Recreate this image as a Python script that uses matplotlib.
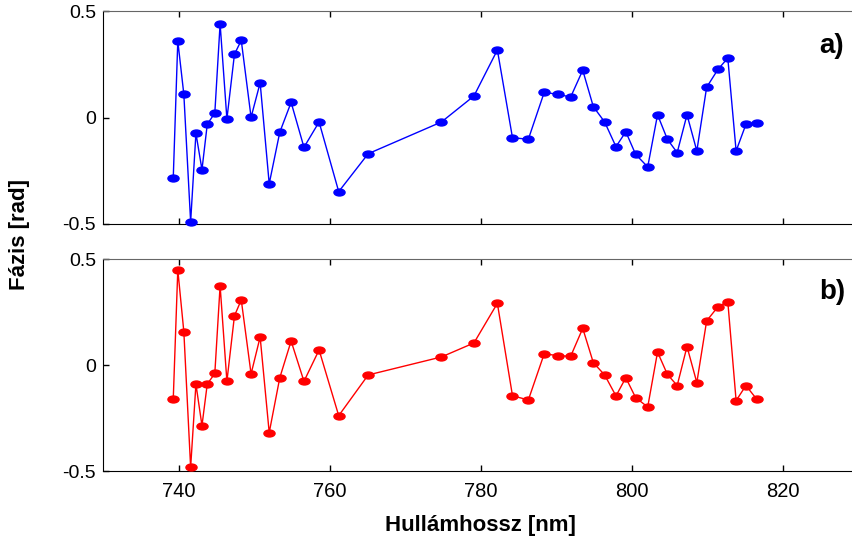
import matplotlib
matplotlib.use("Agg")
import matplotlib.pyplot as plt
from matplotlib.path import Path
from matplotlib.transforms import Affine2D

# wavelength [nm]
wavelength = [739.3, 739.9, 740.7, 741.6, 742.3, 743.1, 743.8, 744.8, 745.5, 746.4,
              747.4, 748.3, 749.6, 750.8, 752.0, 753.4, 754.9, 756.6, 758.6, 761.2,
              765.1, 774.8, 779.1, 782.2, 784.2, 786.3, 788.4, 790.2, 791.9, 793.5,
              794.9, 796.4, 797.9, 799.2, 800.5, 802.1, 803.4, 804.7, 806.0, 807.3,
              808.6, 809.9, 811.4, 812.7, 813.8, 815.1, 816.5]

# phase a) [rad]
phase_a = [-0.283, 0.359, 0.109, -0.49, -0.074, -0.245, -0.032, 0.021, 0.44, -0.007,
           0.297, 0.362, 0.001, 0.163, -0.311, -0.069, 0.071, -0.14, -0.021, -0.348,
           -0.17, -0.021, 0.101, 0.317, -0.095, -0.102, 0.118, 0.109, 0.096, 0.222,
           0.051, -0.021, -0.137, -0.067, -0.173, -0.232, 0.013, -0.102, -0.165, 0.013,
           -0.157, 0.142, 0.226, 0.279, -0.157, -0.032, -0.027]

# phase b) [rad]
phase_b = [-0.16, 0.449, 0.157, -0.483, -0.09, -0.286, -0.09, -0.04, 0.374, -0.077,
           0.232, 0.307, -0.042, 0.132, -0.319, -0.06, 0.113, -0.077, 0.071, -0.239,
           -0.047, 0.038, 0.104, 0.291, -0.145, -0.165, 0.053, 0.044, 0.041, 0.173,
           0.011, -0.047, -0.146, -0.06, -0.154, -0.198, 0.061, -0.044, -0.097, 0.087,
           -0.083, 0.208, 0.275, 0.299, -0.168, -0.097, -0.16]

xticks = [740, 760, 780, 800, 820]
yticks = [-0.5, 0, 0.5]
ytick_labels = ["-0.5", "0", "0.5"]

plt.rcParams['font.family'] = ['Liberation Sans', 'DejaVu Sans']

# markers are flattened ellipses in the original
ellipse = Path.unit_circle().transformed(Affine2D().scale(1.6, 1.0))

W, H = 853, 544
fig = plt.figure(figsize=(W / 100, H / 100), dpi=100)

left = 103 / W
width = (858.5 - 103) / W
ax_a = fig.add_axes([left, (H - 224) / H, width, 213 / H])
ax_b = fig.add_axes([left, (H - 471) / H, width, 212 / H])

panels = [(ax_a, phase_a, "#0000ff", "a)", 46), (ax_b, phase_b, "#ff0000", "b)", 292)]
for ax, y, col, tag, ty in panels:
    ax.plot(wavelength, y, color=col, lw=1.0, marker=ellipse, ms=8,
            mfc=col, mec=col, clip_on=False, zorder=3)
    ax.set_xlim(730, 830)
    ax.set_ylim(-0.5, 0.5)
    ax.set_xticks(xticks)
    ax.set_yticks(yticks)
    ax.set_yticklabels(ytick_labels)
    ax.tick_params(direction="in", length=4, width=1, top=True)
    ax.tick_params(axis="y", labelsize=14, pad=5)
    ax.tick_params(axis="x", labelsize=14.5, pad=8)
    ax.spines["right"].set_visible(False)
    ax.spines["top"].set_color("#666666")
    fig.text(832 / W, 1 - ty / H, tag, fontsize=20, fontweight="bold",
             ha="center", va="center")

ax_a.set_xticklabels([])
ax_b.set_xlabel("Hullámhossz [nm]", fontsize=16, fontweight="bold", labelpad=10)
fig.text(20 / W, 1 - 234 / H, "Fázis [rad]", rotation=90, fontsize=16,
         fontweight="bold", ha="center", va="center")

fig.savefig("out.png", dpi=100)
